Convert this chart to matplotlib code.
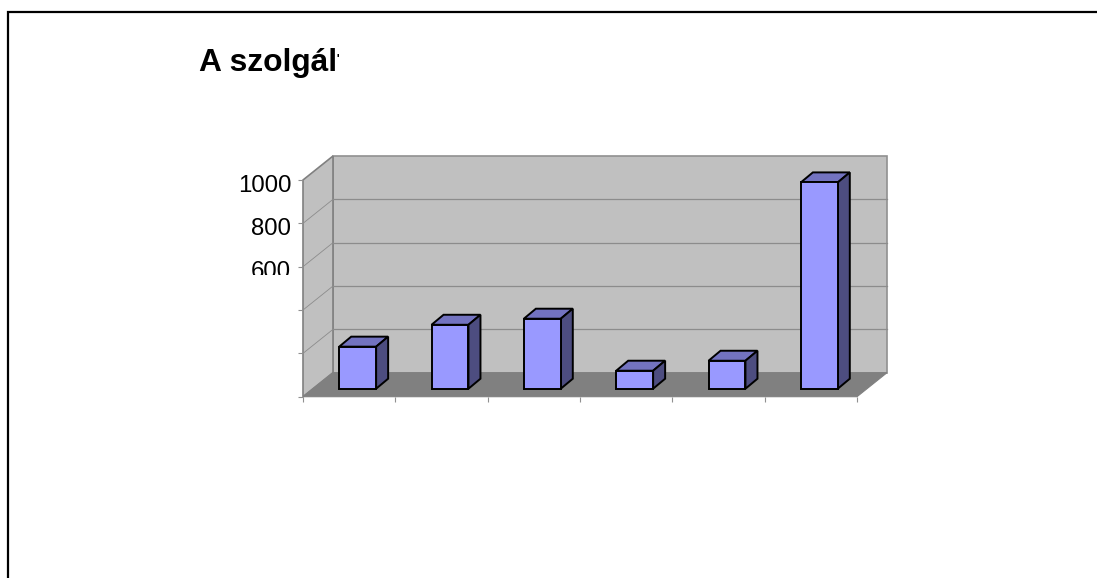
import matplotlib
matplotlib.use('Agg')
import matplotlib.pyplot as plt
from matplotlib.lines import Line2D
from matplotlib.patches import Polygon
from matplotlib.transforms import Affine2D, Bbox

# values
categories = [0.5, 1.5, 2.5, 3.5, 4.5, 5.5]
values = [194, 295, 323, 83, 129, 952]
y_ticks = [0, 200, 400, 600, 800, 1000]
y_labels = ['', '', '', '600', '800', '1000']
x_edges = [0, 1, 2, 3, 4, 5, 6]
title_text = 'A szolgált'

W, H = 1097, 578
WALL_DX, WALL_DY = 30, 24
BAR_DX, BAR_DY = 8.5, 8
TOP_DX, TOP_DY = 12, 10
BAR_WIDTH = 0.4

plt.rcParams['font.family'] = ['Liberation Sans', 'DejaVu Sans']

fig = plt.figure(figsize=(W / 100, H / 100), dpi=100, facecolor='white')
ax = fig.add_axes([303 / W, 1 - 396.7 / H, (857 - 303) / W, (396.7 - 180) / H])
ax.set_xlim(0, 6)
ax.set_ylim(0, 1000)
ax.patch.set_visible(False)
for s in ax.spines.values():
    s.set_visible(False)


def shifted(dx, dy):
    return ax.transData + Affine2D().translate(dx, dy)


def px(x, y, dx=0, dy=0):
    a, b = ax.transData.transform((x, y))
    return (a + dx, b + dy)


def face(points, color, edge, lw, zorder):
    ax.add_patch(Polygon(points, closed=True, facecolor=color, edgecolor=edge,
                         linewidth=lw, transform=None, clip_on=False,
                         joinstyle='miter', zorder=zorder))


# walls and floor
face([px(0, 0, WALL_DX, WALL_DY), px(6, 0, WALL_DX, WALL_DY),
      px(6, 1000, WALL_DX, WALL_DY), px(0, 1000, WALL_DX, WALL_DY)],
     '#c0c0c0', '#909090', 1.2, 1)
face([px(0, 0), px(0, 1000), px(0, 1000, WALL_DX, WALL_DY), px(0, 0, WALL_DX, WALL_DY)],
     '#c0c0c0', '#808080', 1.2, 1)
face([px(0, 0), px(6, 0), px(6, 0, WALL_DX, WALL_DY), px(0, 0, WALL_DX, WALL_DY)],
     '#808080', '#808080', 0.8, 2)

# gridlines
for v in y_ticks[1:-1]:
    ax.plot([0, 6], [v, v], color='#8c8c8c', lw=0.9, zorder=1.5, clip_on=False,
            transform=shifted(WALL_DX, WALL_DY))
    a, b = px(0, v), px(0, v, WALL_DX, WALL_DY)
    ax.add_line(Line2D([a[0], b[0]], [a[1], b[1]], color='#8c8c8c', lw=0.6,
                       transform=None, clip_on=False, zorder=1.5))

# bars
for x, v in zip(categories, values):
    left = x - BAR_WIDTH / 2
    right = x + BAR_WIDTH / 2
    dx, dy = BAR_DX, BAR_DY
    face([px(left, v, dx, dy), px(right, v, dx, dy),
          px(right, v, dx + TOP_DX, dy + TOP_DY), px(left, v, dx + TOP_DX, dy + TOP_DY)],
         '#7373c0', 'black', 1.4, 3)
    face([px(right, 0, dx, dy), px(right, 0, dx + TOP_DX, dy + TOP_DY),
          px(right, v, dx + TOP_DX, dy + TOP_DY), px(right, v, dx, dy)],
         '#4d4d80', 'black', 1.4, 3)
ax.bar(categories, values, width=BAR_WIDTH, color='#9999ff', edgecolor='black',
       linewidth=1.4, zorder=4, clip_on=False, transform=shifted(BAR_DX, BAR_DY))
ax.set_xlim(0, 6)
ax.set_ylim(0, 1000)

# axes ticks
ax.set_xticks(x_edges)
ax.set_xticklabels([])
ax.set_yticks(y_ticks)
ax.set_yticklabels(y_labels, fontsize=17.3)
ax.tick_params(axis='both', length=3.5, width=0.8, color='#909090', pad=5)
for t in ax.yaxis.get_major_ticks():
    t.label1.set_transform(t.label1.get_transform() + Affine2D().translate(0, -3))
    t.label1.set_clip_on(True)
    t.label1.set_clip_box(Bbox([[0, H - 275], [W, H]]))

# frame
fig.add_artist(Line2D([8, 8, W + 2], [-2, H - 12, H - 12], color='black', lw=1.6,
                      transform=None, solid_joinstyle='miter'))

# title, cut off as in the source
title = fig.text(199 / W, 1 - 70.5 / H, title_text, fontsize=22.9, fontweight='bold',
                 color='black', ha='left', va='baseline')
title.set_clip_on(True)
title.set_clip_box(Bbox([[0, 0], [339, H]]))

fig.savefig('out.png', dpi=100)
